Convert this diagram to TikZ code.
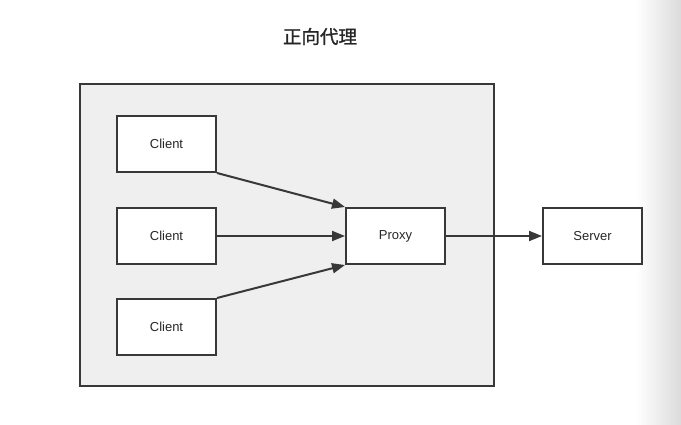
\documentclass[tikz,border=0pt]{standalone}
\usepackage{fontspec}
\setsansfont{Liberation Sans}
\newfontfamily\cjk[FakeBold=1.2]{Noto Sans CJK SC}
\usetikzlibrary{arrows.meta}

\definecolor{linegray}{HTML}{383838}
\definecolor{panelgray}{HTML}{EFEFEF}

\begin{document}
\begin{tikzpicture}[
    x=1pt, y=-1pt,
    draw=linegray,
    box/.style = {draw=linegray, fill=white, line width=2pt,
        minimum width=99pt, minimum height=56pt, inner sep=0pt,
        font=\sffamily\fontsize{13}{13}\selectfont, text=black!85},
    link/.style = {draw=linegray, line width=2pt,
        -{Triangle[length=13pt,width=10pt]}}
     ]
  \useasboundingbox (0,0) rectangle (681,425);
  % screenshot edge
  \shade[left color=white, right color=black!14] (636,0) rectangle (681,425);
  \node[font=\cjk\fontsize{18.5}{18.5}\selectfont, text=black!85] (title) at (320,36.5) {正向代理};
  \filldraw[fill=panelgray, line width=2pt] (80,84) rectangle (494,386);
  \node[box] (c1) at (166.5,144) {Client};
  \node[box] (c2) at (166.5,236) {Client};
  \node[box] (c3) at (166.5,327) {Client};
  \node[box] (proxy) at (395.5,236) {Proxy};
  \node[box] (server) at (592.5,236) {Server};
  \draw[link] (c1.south east) -- (proxy.north west);
  \draw[link] (c2.east) -- (proxy.west);
  \draw[link] (c3.north east) -- (proxy.south west);
  \draw[link] (proxy.east) -- (server.west);
\end{tikzpicture}
\end{document}
